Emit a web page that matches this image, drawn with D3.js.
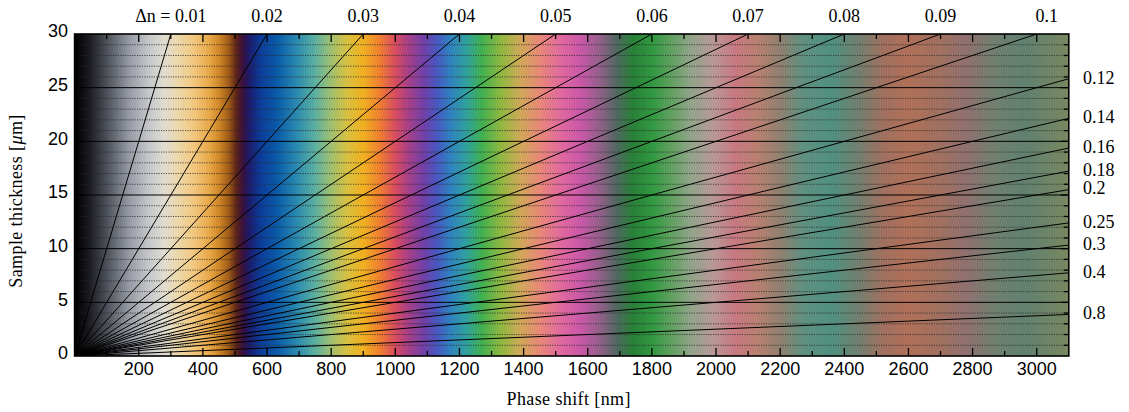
<!DOCTYPE html>
<meta charset="utf-8">
<style>
  body { margin: 0; background: #fff; }
  .tick-label { font-family: "Liberation Sans", Arial, sans-serif; font-size: 18px; fill: #000; }
  .dn-label { font-family: "Liberation Serif", "Times New Roman", serif; font-size: 18px; fill: #000; }
  .axis-title { font-family: "Liberation Serif", "Times New Roman", serif; font-size: 18px; fill: #000; letter-spacing: 0.4px; }
  .grid-dot { stroke: #2a2a2a; stroke-width: 0.8px; stroke-dasharray: 1.2,1.2; }
  .grid-solid { stroke: #000; stroke-width: 1px; }
  .dn line { stroke: #000; stroke-width: 1px; }
</style>
<svg width="1129" height="412"></svg>
<script src="https://cdn.jsdelivr.net/npm/d3@7"></script>
<script>
  // birefringence lines (delta n)
  var dnValues = [0.01, 0.02, 0.03, 0.04, 0.05, 0.06, 0.07, 0.08, 0.09, 0.1,
                  0.12, 0.14, 0.16, 0.18, 0.2, 0.25, 0.3, 0.4, 0.8];
  var dnLabels = ["\u0394n = 0.01", "0.02", "0.03", "0.04", "0.05", "0.06", "0.07", "0.08", "0.09", "0.1",
                  "0.12", "0.14", "0.16", "0.18", "0.2", "0.25", "0.3", "0.4", "0.8"];
  var xTicks = [200, 400, 600, 800, 1000, 1200, 1400, 1600, 1800, 2000, 2200, 2400, 2600, 2800, 3000];
  var yTicks = [0, 5, 10, 15, 20, 25, 30];
  // interference colour vs retardation [nm]
  var colorStops = [
    [0, "#000000"], [40, "#16161c"], [100, "#4c5058"], [170, "#969aa4"],
    [230, "#c4c6c8"], [280, "#e0dcd0"], [320, "#ecd8ac"], [370, "#f2c880"],
    [420, "#e8a848"], [450, "#d08828"], [480, "#a05c18"], [505, "#5a2418"],
    [525, "#3a1040"], [545, "#1c1c6c"], [580, "#0c3c98"], [630, "#0a5aa8"],
    [690, "#2888b0"], [750, "#5cb0a0"], [800, "#a0c070"], [850, "#d8c040"],
    [900, "#f0b020"], [950, "#f08030"], [1000, "#d84c60"], [1040, "#a84088"],
    [1090, "#7040a8"], [1130, "#4858c0"], [1170, "#3080c0"], [1220, "#30a0a0"],
    [1270, "#40b050"], [1330, "#90b840"], [1390, "#d0a858"], [1450, "#e88878"],
    [1520, "#e068a0"], [1580, "#c858a8"], [1640, "#906088"], [1690, "#506860"],
    [1740, "#288038"], [1800, "#309840"], [1860, "#60a060"], [1920, "#90a488"],
    [1990, "#b89898"], [2060, "#c87880"], [2130, "#b88070"], [2200, "#908070"],
    [2270, "#609080"], [2360, "#509080"], [2440, "#708070"], [2520, "#a07060"],
    [2600, "#b07058"], [2700, "#a07060"], [2780, "#907070"], [2870, "#708070"],
    [2960, "#608070"], [3100, "#788860"]
  ];
  var gammaMax = 3100, dMax = 30;

  var svg = d3.select("svg");
  var pLeft = 74.6, pRight = 1068.8, pTop = 34, pBottom = 356;

  var x = d3.scaleLinear().domain([0, gammaMax]).range([pLeft, pRight]);
  var y = d3.scaleLinear().domain([0, dMax]).range([pBottom, pTop]);

  var defs = svg.append("defs");
  var grad = defs.append("linearGradient").attr("id", "ml")
    .attr("x1", "0%").attr("x2", "100%").attr("y1", "0%").attr("y2", "0%");
  grad.selectAll("stop").data(colorStops).enter().append("stop")
    .attr("offset", function(d) { return (d[0] / gammaMax * 100) + "%"; })
    .attr("stop-color", function(d) { return d[1]; });
  defs.append("clipPath").attr("id", "plotclip").append("rect")
    .attr("x", pLeft).attr("y", pTop).attr("width", pRight - pLeft).attr("height", pBottom - pTop);

  svg.append("rect")
    .attr("x", pLeft).attr("y", pTop).attr("width", pRight - pLeft).attr("height", pBottom - pTop)
    .attr("fill", "url(#ml)");

  // horizontal grid: dotted every micron, solid every 5
  var gridVals = d3.range(1, dMax);
  svg.append("g").selectAll("line").data(gridVals).enter().append("line")
    .attr("class", function(d) { return d % 5 == 0 ? "grid-solid" : "grid-dot"; })
    .attr("x1", pLeft).attr("x2", pRight)
    .attr("y1", function(d) { return y(d); }).attr("y2", function(d) { return y(d); });

  // delta n lines: d[um] = gamma[nm] / (1000 dn)
  function endPoint(dn) {
    var g = dMax * 1000 * dn;
    if (g <= gammaMax) return [g, dMax];
    return [gammaMax, gammaMax / (1000 * dn)];
  }
  svg.append("g").attr("class", "dn").attr("clip-path", "url(#plotclip)")
    .selectAll("line").data(dnValues).enter().append("line")
    .attr("x1", x(0)).attr("y1", y(0))
    .attr("x2", function(d) { return x(endPoint(d)[0]); })
    .attr("y2", function(d) { return y(endPoint(d)[1]); });

  var lab = svg.append("g");
  dnValues.forEach(function(dn, i) {
    var p = endPoint(dn);
    if (p[1] == dMax) {
      lab.append("text").attr("class", "dn-label")
        .attr("x", x(p[0]) + (i == 9 ? 10 : 0)).attr("y", 22)
        .attr("text-anchor", "middle").text(dnLabels[i]);
    } else {
      lab.append("text").attr("class", "dn-label")
        .attr("x", 1083).attr("y", y(p[1]) - 1.5)
        .attr("dy", "0.35em").text(dnLabels[i]);
    }
  });

  // ticks
  var xt = d3.range(100, gammaMax, 100);
  var tk = svg.append("g").attr("stroke", "#000").attr("stroke-width", 1.3);
  xt.forEach(function(v) {
    var len = v % 200 == 0 ? 8 : 5;
    tk.append("line").attr("x1", x(v)).attr("x2", x(v)).attr("y1", pBottom).attr("y2", pBottom - len);
    tk.append("line").attr("x1", x(v)).attr("x2", x(v)).attr("y1", pTop).attr("y2", pTop + len);
  });
  gridVals.forEach(function(v) {
    var len = v % 5 == 0 ? 8 : 5;
    tk.append("line").attr("x1", pRight).attr("x2", pRight - len).attr("y1", y(v)).attr("y2", y(v));
    tk.append("line").attr("x1", pLeft).attr("x2", pLeft + len).attr("y1", y(v)).attr("y2", y(v));
  });

  svg.append("rect")
    .attr("x", pLeft).attr("y", pTop).attr("width", pRight - pLeft).attr("height", pBottom - pTop)
    .attr("fill", "none").attr("stroke", "#000").attr("stroke-width", 1.6);

  svg.append("g").selectAll("text").data(xTicks).enter().append("text")
    .attr("class", "tick-label").attr("text-anchor", "middle")
    .attr("x", function(d) { return x(d); }).attr("y", 375).text(function(d) { return d; });
  svg.append("g").selectAll("text").data(yTicks).enter().append("text")
    .attr("class", "tick-label").attr("text-anchor", "end")
    .attr("x", 68).attr("y", function(d) { return y(d) - 3; }).attr("dy", "0.35em")
    .text(function(d) { return d; });

  svg.append("text").attr("class", "axis-title").attr("text-anchor", "middle")
    .attr("x", x(gammaMax / 2) - 3).attr("y", 405).text("Phase shift [nm]");
  var yt = svg.append("text").attr("class", "axis-title").attr("text-anchor", "middle")
    .attr("transform", "translate(22," + ((pTop + pBottom) / 2 + 6) + ") rotate(-90)");
  yt.append("tspan").text("Sample thickness [");
  yt.append("tspan").attr("font-style", "italic").text("\u03bc");
  yt.append("tspan").text("m]");
</script>
